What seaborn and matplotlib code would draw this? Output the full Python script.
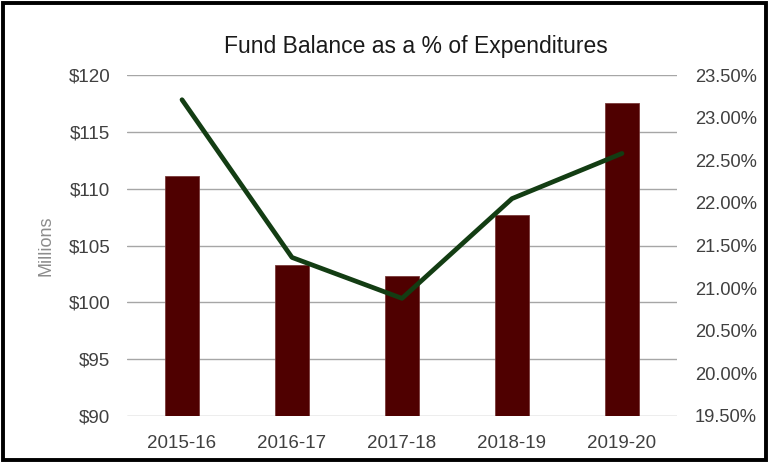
import matplotlib
matplotlib.use("Agg")
import matplotlib.pyplot as plt
from matplotlib.patches import Rectangle
from matplotlib.ticker import FuncFormatter, MultipleLocator
import seaborn as sns

# Fiscal years and values
years = ["2015-16", "2016-17", "2017-18", "2018-19", "2019-20"]
fund_balance_millions = [111.1, 103.3, 102.3, 107.65, 117.55]
pct_of_expenditures = [23.21, 21.36, 20.88, 22.05, 22.58]

bar_color = "#4f0000"
line_color = "#133d13"
grid_color = "#a6a6a6"
text_color = "#404040"

sns.set_theme(style="white")
plt.rcParams["font.family"] = ["Liberation Sans", "DejaVu Sans"]

fig = plt.figure(figsize=(7.7, 4.62), dpi=100)
ax = fig.add_axes([127 / 770, 1 - 416 / 462, 550 / 770, 341 / 462])

sns.barplot(x=years, y=fund_balance_millions, ax=ax, color=bar_color,
            width=0.31, saturation=1, edgecolor="#7a3a3a", linewidth=0.6,
            zorder=2)

ax.set_ylim(90, 120)
ax.yaxis.set_major_locator(MultipleLocator(5))
ax.yaxis.set_major_formatter(FuncFormatter(lambda v, p: f"${v:.0f}"))
ax.set_xlim(-0.5, len(years) - 0.5)
ax.grid(axis="y", color=grid_color, linewidth=1.0, zorder=0)
ax.set_axisbelow(True)
for s in ax.spines.values():
    s.set_visible(False)
ax.tick_params(axis="both", length=0, labelsize=13.5, colors=text_color)
ax.tick_params(axis="y", pad=12)
ax.tick_params(axis="x", pad=14)
ax.set_ylabel("Millions", fontsize=13, color="#8c8c8c", labelpad=10)
ax.set_xlabel("")

ax2 = ax.twinx()
sns.pointplot(x=years, y=pct_of_expenditures, ax=ax2, color=line_color,
              markers="", linewidth=3.4, errorbar=None, zorder=3)
ax2.set_xlim(-0.5, len(years) - 0.5)
ax2.set_ylim(19.5, 23.5)
ax2.yaxis.set_major_locator(MultipleLocator(0.5))
ax2.yaxis.set_major_formatter(FuncFormatter(lambda v, p: f"{v:.2f}%"))
ax2.grid(False)
for s in ax2.spines.values():
    s.set_visible(False)
ax2.tick_params(axis="y", length=0, labelsize=13.2, colors=text_color, pad=13)
ax2.set_ylabel("")
ax2.set_xlabel("")

fig.text(416 / 770, 1 - 46 / 462, "Fund Balance as a % of Expenditures",
         ha="center", va="center", fontsize=16.5, color="#1a1a1a")

# Outer frame
fig.patches.append(Rectangle((3 / 770, 2 / 462), 763 / 770, 457 / 462,
                             transform=fig.transFigure, fill=False,
                             edgecolor="black", linewidth=2.8))

fig.savefig("out.png", dpi=100)
